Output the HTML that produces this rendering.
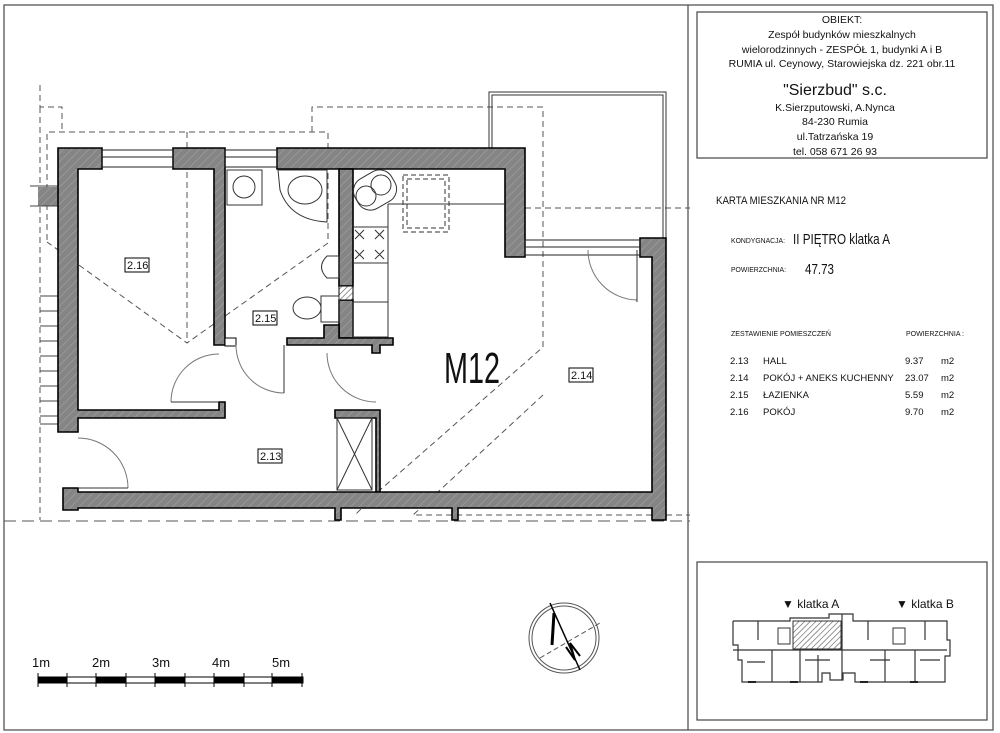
<!DOCTYPE html>
<html><head><meta charset="utf-8"><style>
html,body{margin:0;padding:0;background:#fff;}
svg{display:block;}
text{font-family:"Liberation Sans",sans-serif;fill:#111;}
</style></head><body>
<svg width="1000" height="733" viewBox="0 0 1000 733" xmlns="http://www.w3.org/2000/svg">
<defs>
<pattern id="h" width="6" height="6" patternUnits="userSpaceOnUse" patternTransform="rotate(45)">
<rect width="6" height="6" fill="#858585"/><line x1="0" y1="0" x2="0" y2="6" stroke="#9e9e9e" stroke-width="1.5"/></pattern>
<pattern id="h2" width="4" height="4" patternUnits="userSpaceOnUse" patternTransform="rotate(45)">
<rect width="4" height="4" fill="#fff"/><line x1="0" y1="0" x2="0" y2="4" stroke="#555" stroke-width="1.2"/></pattern>
</defs>
<!-- frames -->
<rect x="4" y="5" width="989" height="725" fill="none" stroke="#555" stroke-width="1.3"/>
<line x1="688" y1="5" x2="688" y2="730" stroke="#555" stroke-width="1.3"/>
<rect x="697" y="12" width="290" height="146" fill="none" stroke="#444" stroke-width="1.2"/>
<rect x="697" y="562" width="290" height="158" fill="none" stroke="#444" stroke-width="1.2"/>

<!-- dashed lines -->
<g fill="none" stroke="#555" stroke-width="1" stroke-dasharray="6,4">
<polyline points="40,85 40,107 62,107 62,132"/>
<line x1="40" y1="107" x2="40" y2="520"/>
<polyline points="47,240 47,132 328,132 328,243 187,343 47,242"/>
<line x1="187" y1="132" x2="187" y2="343"/>
<polyline points="312,132 312,107 543,107 543,347 380,490 355,515"/>
<polyline points="543,395 413,515 690,515"/>
<line x1="525" y1="208" x2="690" y2="208"/>
</g>
<line x1="4" y1="521" x2="690" y2="521" stroke="#555" stroke-width="1" stroke-dasharray="12,6"/>

<!-- stairs left -->
<rect x="38" y="187" width="20" height="19" fill="url(#h)" stroke="none"/>
<g stroke="#444" stroke-width="1">
<line x1="30" y1="186" x2="58" y2="186"/><line x1="30" y1="206" x2="58" y2="206"/>
<line x1="40" y1="296" x2="58" y2="296"/><line x1="40" y1="311" x2="58" y2="311"/>
<line x1="40" y1="326" x2="58" y2="326"/><line x1="40" y1="341" x2="58" y2="341"/>
<line x1="40" y1="356" x2="58" y2="356"/><line x1="40" y1="371" x2="58" y2="371"/>
<line x1="40" y1="386" x2="58" y2="386"/><line x1="40" y1="401" x2="58" y2="401"/>
<line x1="40" y1="416" x2="58" y2="416"/><line x1="40" y1="424" x2="58" y2="424"/>
</g>

<!-- balcony -->
<g fill="none" stroke="#333" stroke-width="1">
<polyline points="489,148 489,92 666,92 666,238"/>
<polyline points="492,148 492,95 663,95 663,238"/>
</g>

<!-- walls -->
<g fill="url(#h)" stroke="#000" stroke-width="1.6">
<polygon points="58,148 102,148 102,169 78,169 78,410 219,410 219,402 225,402 225,418 78,418 78,432 58,432"/>
<polygon points="173,148 225,148 225,345 214,345 214,169 173,169"/>
<polygon points="277,148 525,148 525,257 505,257 505,169 277,169"/>
<rect x="339" y="169" width="14" height="117"/>
<rect x="339" y="300" width="14" height="38"/>
<polygon points="287,338 324,338 324,325 339,325 339,338 393,338 393,345 380,345 380,353 372,353 372,345 287,345"/>
<polygon points="335,410 380,410 380,492 376,492 376,418 335,418"/>
<polygon points="63,488 78,488 78,492 652,492 652,257 640,257 640,238 666,238 666,520 652,520 652,508 458,508 458,520 452,520 452,508 341,508 341,520 335,520 335,508 78,508 78,510 63,510"/>
</g>
<rect x="339" y="286" width="14" height="14" fill="url(#h2)" stroke="#000" stroke-width="1"/>
<rect x="225" y="338" width="11" height="8" fill="#fff" stroke="#000" stroke-width="1"/>
<!-- windows -->
<g fill="none" stroke="#222" stroke-width="1">
<rect x="102" y="150" width="71" height="17"/><line x1="102" y1="157" x2="173" y2="157"/>
<rect x="225" y="150" width="52" height="17"/><line x1="225" y1="157" x2="277" y2="157"/>
<rect x="525" y="240" width="115" height="15"/><line x1="525" y1="247" x2="640" y2="247"/>
</g>
<!-- doors -->
<g fill="none" stroke="#777" stroke-width="1">
<path d="M171,402 A48,48 0 0 1 219,354"/><line x1="171" y1="402" x2="219" y2="402" stroke="#333"/>
<path d="M236,345 A48,48 0 0 0 284,393"/><line x1="284" y1="345" x2="284" y2="393" stroke="#333"/>
<path d="M327,353 A49,49 0 0 0 376,402"/>
<path d="M78,438 A50,50 0 0 1 128,488"/><line x1="78" y1="488" x2="128" y2="488" stroke="#333"/>
<path d="M588,250 A50,50 0 0 0 637,300"/><line x1="637" y1="250" x2="637" y2="302" stroke="#333"/>
</g>
<!-- shaft -->
<g fill="none" stroke="#333" stroke-width="1">
<rect x="337" y="418" width="35" height="72"/>
<line x1="337" y1="418" x2="372" y2="490"/><line x1="372" y1="418" x2="337" y2="490"/>
</g>
<!-- sanitary -->
<g fill="none" stroke="#333" stroke-width="1">
<rect x="227" y="170" width="35" height="35"/><circle cx="244" cy="187" r="11"/>
<path d="M278,170 L327,170 L327,222 Q290,220 280,190 Z"/><ellipse cx="305" cy="190" rx="17" ry="14"/>
<path d="M339,256 L327,256 Q316,267 327,278 L339,278 Z"/>
<ellipse cx="307" cy="308" rx="14" ry="11"/><rect x="321" y="296" width="18" height="26"/>
<rect x="354" y="173" width="42" height="34" rx="14" transform="rotate(-30 375 190)"/>
<circle cx="366" cy="196" r="10"/><circle cx="381" cy="185" r="10"/>
<polyline points="353,227 388,227"/><line x1="388" y1="204" x2="388" y2="337"/><line x1="388" y1="204" x2="505" y2="204"/>
<line x1="353" y1="263" x2="388" y2="263"/>
<path d="M355,230 l9,9 m0,-9 l-9,9 M375,230 l9,9 m0,-9 l-9,9 M355,250 l9,9 m0,-9 l-9,9 M375,250 l9,9 m0,-9 l-9,9"/>
<rect x="353" y="302" width="35" height="35"/>
<rect x="403" y="175" width="46" height="57" stroke-dasharray="5,3"/>
<rect x="407" y="179" width="38" height="49" stroke-dasharray="5,3"/>
</g>
<!-- labels -->
<g font-size="11">
<rect x="125" y="258" width="24" height="14" fill="none" stroke="#000"/><text x="127" y="269">2.16</text>
<rect x="253" y="311" width="24" height="14" fill="none" stroke="#000"/><text x="255" y="322">2.15</text>
<rect x="569" y="368" width="24" height="14" fill="none" stroke="#000"/><text x="571" y="379">2.14</text>
<rect x="258" y="449" width="24" height="14" fill="none" stroke="#000"/><text x="260" y="460">2.13</text>
</g>
<text x="444" y="383" font-size="44" textLength="56" lengthAdjust="spacingAndGlyphs">M12</text>

<!-- scale bar -->
<g font-size="13">
<text x="32" y="667">1m</text><text x="92" y="667">2m</text><text x="152" y="667">3m</text><text x="212" y="667">4m</text><text x="272" y="667">5m</text>
</g>
<rect x="38" y="677" width="265" height="6" fill="#fff" stroke="#000" stroke-width="1"/>
<g fill="#000"><rect x="38" y="677" width="29" height="6"/><rect x="96" y="677" width="30" height="6"/><rect x="155" y="677" width="30" height="6"/><rect x="214" y="677" width="30" height="6"/><rect x="272" y="677" width="30" height="6"/></g>
<g stroke="#000"><line x1="38" y1="673" x2="38" y2="687"/><line x1="67" y1="673" x2="67" y2="687"/><line x1="96" y1="673" x2="96" y2="687"/><line x1="126" y1="673" x2="126" y2="687"/><line x1="155" y1="673" x2="155" y2="687"/><line x1="185" y1="673" x2="185" y2="687"/><line x1="214" y1="673" x2="214" y2="687"/><line x1="244" y1="673" x2="244" y2="687"/><line x1="272" y1="673" x2="272" y2="687"/><line x1="302" y1="673" x2="302" y2="687"/></g>
<!-- compass -->
<g fill="none" stroke="#555">
<circle cx="564" cy="638" r="35"/><circle cx="564" cy="638" r="32"/>
<line x1="540" y1="658" x2="600" y2="623" stroke-dasharray="5,3"/>
<line x1="550" y1="603" x2="580" y2="670" stroke="#000" stroke-width="1.5"/>
<line x1="554" y1="613" x2="552" y2="645" stroke="#000" stroke-width="3"/>
<path d="M566,647 L575,660 L570,643 L580,656" stroke="#000" stroke-width="2"/>
</g>

<!-- right panel text -->
<g font-size="10.5" text-anchor="middle">
<text x="842" y="23">OBIEKT:</text>
<text x="842" y="38">Zespół budynków mieszkalnych</text>
<text x="842" y="53">wielorodzinnych - ZESPÓŁ 1, budynki A i B</text>
<text x="842" y="67">RUMIA ul. Ceynowy, Starowiejska dz. 221 obr.11</text>
<text x="835" y="95" font-size="16">"Sierzbud" s.c.</text>
<text x="835" y="111">K.Sierzputowski, A.Nynca</text>
<text x="835" y="125">84-230 Rumia</text>
<text x="835" y="140">ul.Tatrzańska 19</text>
<text x="835" y="155">tel. 058 671 26 93</text>
</g>
<text x="716" y="204" font-size="11" textLength="130" lengthAdjust="spacingAndGlyphs">KARTA MIESZKANIA NR M12</text>
<text x="731" y="243" font-size="7.5" textLength="54" lengthAdjust="spacingAndGlyphs">KONDYGNACJA:</text>
<text x="793" y="244" font-size="15" textLength="97" lengthAdjust="spacingAndGlyphs">II PIĘTRO klatka A</text>
<text x="731" y="272" font-size="7.5" textLength="55" lengthAdjust="spacingAndGlyphs">POWIERZCHNIA:</text>
<text x="805" y="274" font-size="15" textLength="29" lengthAdjust="spacingAndGlyphs">47.73</text>
<text x="731" y="336" font-size="7.5" textLength="100" lengthAdjust="spacingAndGlyphs">ZESTAWIENIE POMIESZCZEŃ</text>
<text x="906" y="336" font-size="7.5" textLength="58" lengthAdjust="spacingAndGlyphs">POWIERZCHNIA :</text>
<g font-size="9.5">
<text x="730" y="364">2.13</text><text x="763" y="364">HALL</text><text x="905" y="364">9.37</text><text x="941" y="364">m2</text>
<text x="730" y="381">2.14</text><text x="763" y="381">POKÓJ + ANEKS KUCHENNY</text><text x="905" y="381">23.07</text><text x="941" y="381">m2</text>
<text x="730" y="398">2.15</text><text x="763" y="398">ŁAZIENKA</text><text x="905" y="398">5.59</text><text x="941" y="398">m2</text>
<text x="730" y="415">2.16</text><text x="763" y="415">POKÓJ</text><text x="905" y="415">9.70</text><text x="941" y="415">m2</text>
</g>
<!-- key plan -->
<text x="782" y="608" font-size="12">▼ klatka A</text>
<text x="896" y="608" font-size="12">▼ klatka B</text>
<g fill="none" stroke="#333" stroke-width="1.2">
<polyline points="733,621 790,621 790,618 829,618 829,614 853,614 853,621 947,621 947,640 950,640 950,656 945,656 945,682 855,682 855,673 843,673 843,680 830,680 830,673 822,673 822,682 742,682 742,660 738,660 738,645 733,645 733,621"/>
<line x1="733" y1="650" x2="947" y2="650"/>
<line x1="842" y1="614" x2="842" y2="680"/>
<line x1="758" y1="621" x2="758" y2="640"/><line x1="772" y1="650" x2="772" y2="682"/><line x1="800" y1="650" x2="800" y2="682"/>
<line x1="818" y1="655" x2="818" y2="682"/><line x1="868" y1="621" x2="868" y2="640"/><line x1="885" y1="650" x2="885" y2="682"/>
<line x1="915" y1="650" x2="915" y2="682"/><line x1="925" y1="621" x2="925" y2="640"/>
<line x1="747" y1="662" x2="765" y2="662"/><line x1="805" y1="660" x2="830" y2="660"/><line x1="870" y1="660" x2="890" y2="660"/><line x1="920" y1="660" x2="940" y2="660"/>
</g>
<rect x="793" y="621" width="48" height="28" fill="url(#h2)" stroke="#333"/>
<rect x="778" y="628" width="12" height="16" fill="none" stroke="#333"/>
<rect x="893" y="628" width="12" height="16" fill="none" stroke="#333"/>
<g fill="#222"><rect x="748" y="681" width="8" height="2"/><rect x="790" y="681" width="8" height="2"/><rect x="860" y="681" width="8" height="2"/><rect x="910" y="681" width="8" height="2"/></g>
</svg>
</body></html>
